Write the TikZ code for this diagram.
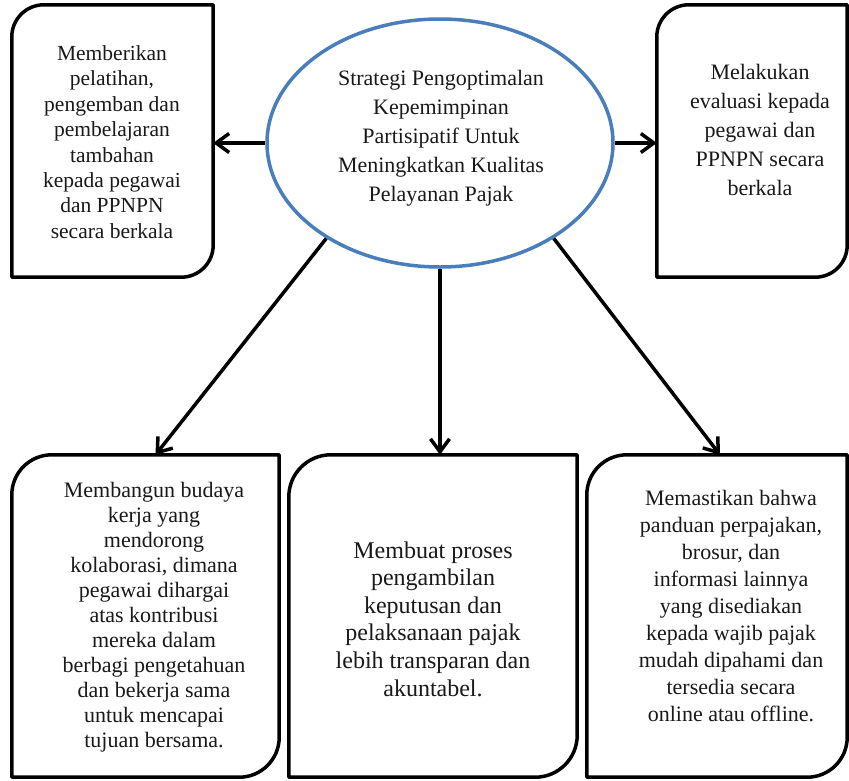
\documentclass[tikz,border=0pt]{standalone}
\usepackage{fontspec}
\setmainfont{Liberation Serif}
\usetikzlibrary{arrows.meta,shapes.geometric}
\definecolor{ellblue}{RGB}{74,126,187}
\tikzset{
  boxline/.style={line width=3.5pt,draw=black,line join=round},
  frame/.style={draw=none,rectangle,inner sep=0pt},
  txt/.style={align=center,inner sep=0pt,text=black!90},
  conn/.style={line width=3.5pt,draw=black,-{Straight Barb[length=13pt,width=19pt]}},
}
\newcommand\dbox[2]{\draw[boxline] (#1.south west) -- ([yshift=-#2]#1.north west) arc[start angle=180,end angle=90,radius=#2] -- (#1.north east) -- ([yshift=#2]#1.south east) arc[start angle=0,end angle=-90,radius=#2] -- cycle;}
\begin{document}
\begin{tikzpicture}[x=1pt,y=-1pt]
\useasboundingbox (0,0) rectangle (849,780);
% frames
\node[frame,minimum width=201pt,minimum height=272pt] (tl) at (112.5,141) {};
\node[frame,minimum width=190pt,minimum height=272pt] (tr) at (752,141) {};
\node[frame,minimum width=267pt,minimum height=322pt] (bl) at (145.5,616) {};
\node[frame,minimum width=288pt,minimum height=322pt] (bm) at (433,616) {};
\node[frame,minimum width=260pt,minimum height=322pt] (br) at (717,616) {};
\node[ellipse,draw=ellblue,line width=3.5pt,minimum width=346pt,minimum height=248pt,inner sep=0pt] (c) at (440,143) {};
% box outlines
\dbox{tl}{32pt}
\dbox{tr}{32pt}
\dbox{bl}{40pt}
\dbox{bm}{42pt}
\dbox{br}{40pt}
% texts
\node[txt,font=\fontsize{22}{29}\selectfont] (ct) at (441,138) {Strategi Pengoptimalan\\Kepemimpinan\\Partisipatif Untuk\\Meningkatkan Kualitas\\Pelayanan Pajak};
\node[txt,font=\fontsize{21.5}{25.4}\selectfont] (tlt) at (112,142) {Memberikan\\pelatihan,\\pengemban dan\\pembelajaran\\tambahan\\kepada pegawai\\dan PPNPN\\secara berkala};
\node[txt,font=\fontsize{22}{29}\selectfont] (trt) at (760,130) {Melakukan\\evaluasi kepada\\pegawai dan\\PPNPN secara\\berkala};
\node[txt,font=\fontsize{22}{25}\selectfont] (blt) at (154,617) {Membangun budaya\\kerja yang\\mendorong\\kolaborasi, dimana\\pegawai dihargai\\atas kontribusi\\mereka dalam\\berbagi pengetahuan\\dan bekerja sama\\untuk mencapai\\tujuan bersama.};
\node[txt,font=\fontsize{24}{27.6}\selectfont] (bmt) at (433,619) {Membuat proses\\pengambilan\\keputusan dan\\pelaksanaan pajak\\lebih transparan dan\\akuntabel.};
\node[txt,font=\fontsize{22}{27}\selectfont] (brt) at (731,606) {Memastikan bahwa\\panduan perpajakan,\\brosur, dan\\informasi lainnya\\yang disediakan\\kepada wajib pajak\\mudah dipahami dan\\tersedia secara\\online atau offline.};
% connectors
\draw[conn] (c.west) -- (c.west -| tl.east);
\draw[conn] (c.east) -- (c.east -| tr.west);
\draw[conn] (c.south) -- (c.south |- bm.north);
\draw[conn] (c.220) -- ([xshift=10pt]bl.north);
\draw[conn] (c.320) -- ([xshift=3pt]br.north);
\end{tikzpicture}
\end{document}
